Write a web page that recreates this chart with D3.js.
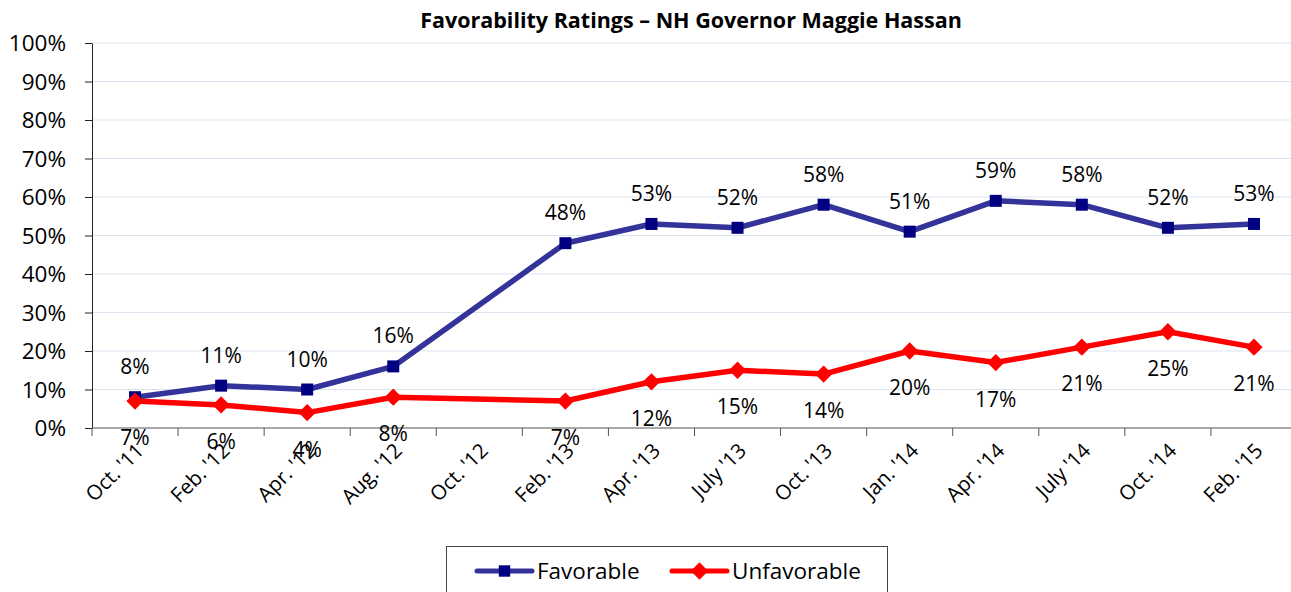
<!DOCTYPE html>
<html>
<head>
<meta charset="utf-8">
<script src="https://cdn.jsdelivr.net/npm/d3@7"></script>
<style>
  body { margin: 0; background: #fff; }
  text { font-family: "Open Sans", "Noto Sans", sans-serif; fill: #000; }
</style>
</head>
<body>
<svg id="chart" width="1291" height="592"></svg>
<script>
const months = ["Oct. '11", "Feb. '12", "Apr. '12", "Aug. '12", "Oct. '12", "Feb. '13", "Apr. '13",
  "July '13", "Oct. '13", "Jan. '14", "Apr. '14", "July '14", "Oct. '14", "Feb. '15"];
const favorable = [8, 11, 10, 16, null, 48, 53, 52, 58, 51, 59, 58, 52, 53];
const unfavorable = [7, 6, 4, 8, null, 7, 12, 15, 14, 20, 17, 21, 25, 21];
const yTicks = [0, 10, 20, 30, 40, 50, 60, 70, 80, 90, 100];

const svg = d3.select("#chart");
const plotLeft = 92, plotRight = 1297, plotTop = 43, plotBottom = 428;

const x = d3.scaleBand().domain(months).range([plotLeft, plotRight]);
const y = d3.scaleLinear().domain([0, 100]).range([plotBottom, plotTop]);

// title
svg.append("text")
  .attr("x", 691).attr("y", 28)
  .attr("text-anchor", "middle")
  .style("font-size", "21.5px").style("font-weight", "bold")
  .text("Favorability Ratings \u2013 NH Governor Maggie Hassan");

// grid lines
svg.append("g").selectAll("line")
  .data(yTicks.filter(d => d > 0))
  .enter().append("line")
  .attr("x1", plotLeft).attr("x2", 1291)
  .attr("y1", d => y(d)).attr("y2", d => y(d))
  .attr("stroke", "#dbe5f1").attr("stroke-width", 1);

// y axis
const yAxis = svg.append("g")
  .attr("transform", `translate(${plotLeft},0)`)
  .call(d3.axisLeft(y).tickValues(yTicks).tickFormat(d => d + "%").tickSize(7).tickSizeOuter(0));
yAxis.select(".domain").attr("stroke", "#222");
yAxis.selectAll(".tick line").attr("stroke", "#222");
yAxis.selectAll(".tick text").attr("x", -26).attr("dy", "0.34em")
  .style("font-size", "22.5px").style("font-family", "'Open Sans', sans-serif");

// x axis with ticks at band boundaries
const xAxis = svg.append("g").attr("transform", `translate(0,${plotBottom})`);
xAxis.append("line").attr("x1", plotLeft).attr("x2", 1291).attr("stroke", "#555").attr("stroke-width", 1.2);
xAxis.selectAll(".xt")
  .data(months)
  .enter().append("line")
  .attr("x1", d => x(d)).attr("x2", d => x(d))
  .attr("y1", 0).attr("y2", 8)
  .attr("stroke", "#555");
xAxis.selectAll(".xl")
  .data(months)
  .enter().append("text")
  .attr("text-anchor", "end")
  .attr("transform", d => `translate(${x(d) + x.bandwidth() / 2 + 10},${24}) rotate(-45)`)
  .style("font-size", "20.5px")
  .text(d => d);

const cx = i => x(months[i]) + x.bandwidth() / 2;

function drawSeries(values, lineColor, markerColor, rot, labelDy) {
  const pts = values.map((v, i) => ({ v, i })).filter(p => p.v !== null);
  const line = d3.line().x(p => cx(p.i)).y(p => y(p.v));
  svg.append("path")
    .datum(pts)
    .attr("d", line)
    .attr("fill", "none")
    .attr("stroke", lineColor)
    .attr("stroke-width", 5.5)
    .attr("stroke-linejoin", "round");
  svg.append("g").selectAll("path")
    .data(pts)
    .enter().append("path")
    .attr("d", d3.symbol().type(d3.symbolSquare).size(rot ? 150 : 144))
    .attr("transform", p => `translate(${cx(p.i)},${y(p.v)}) rotate(${rot})`)
    .attr("fill", markerColor);
  svg.append("g").selectAll("text")
    .data(pts)
    .enter().append("text")
    .attr("x", p => cx(p.i))
    .attr("y", p => y(p.v) + labelDy)
    .attr("text-anchor", "middle")
    .style("font-size", "21px")
    .text(p => p.v + "%");
}

drawSeries(favorable, "#333399", "#000080", 0, -23);
drawSeries(unfavorable, "#ff0000", "#ff0000", 45, 44);

// legend
const lg = svg.append("g");
lg.append("rect")
  .attr("x", 446.5).attr("y", 546.5).attr("width", 441).attr("height", 60)
  .attr("fill", "#fff").attr("stroke", "#444");
const legendItems = [
  { name: "Favorable", color: "#333399", mcolor: "#000080", rot: 0, x: 477 },
  { name: "Unfavorable", color: "#ff0000", mcolor: "#ff0000", rot: 45, x: 672 }
];
legendItems.forEach(it => {
  lg.append("line")
    .attr("x1", it.x).attr("x2", it.x + 55).attr("y1", 571).attr("y2", 571)
    .attr("stroke", it.color).attr("stroke-width", 5).attr("stroke-linecap", "round");
  lg.append("path")
    .attr("d", d3.symbol().type(d3.symbolSquare).size(it.rot ? 150 : 130))
    .attr("transform", `translate(${it.x + 27.5},571) rotate(${it.rot})`)
    .attr("fill", it.mcolor);
  lg.append("text")
    .attr("x", it.x + 60).attr("y", 579)
    .style("font-size", "22.5px")
    .text(it.name);
});
</script>
</body>
</html>
